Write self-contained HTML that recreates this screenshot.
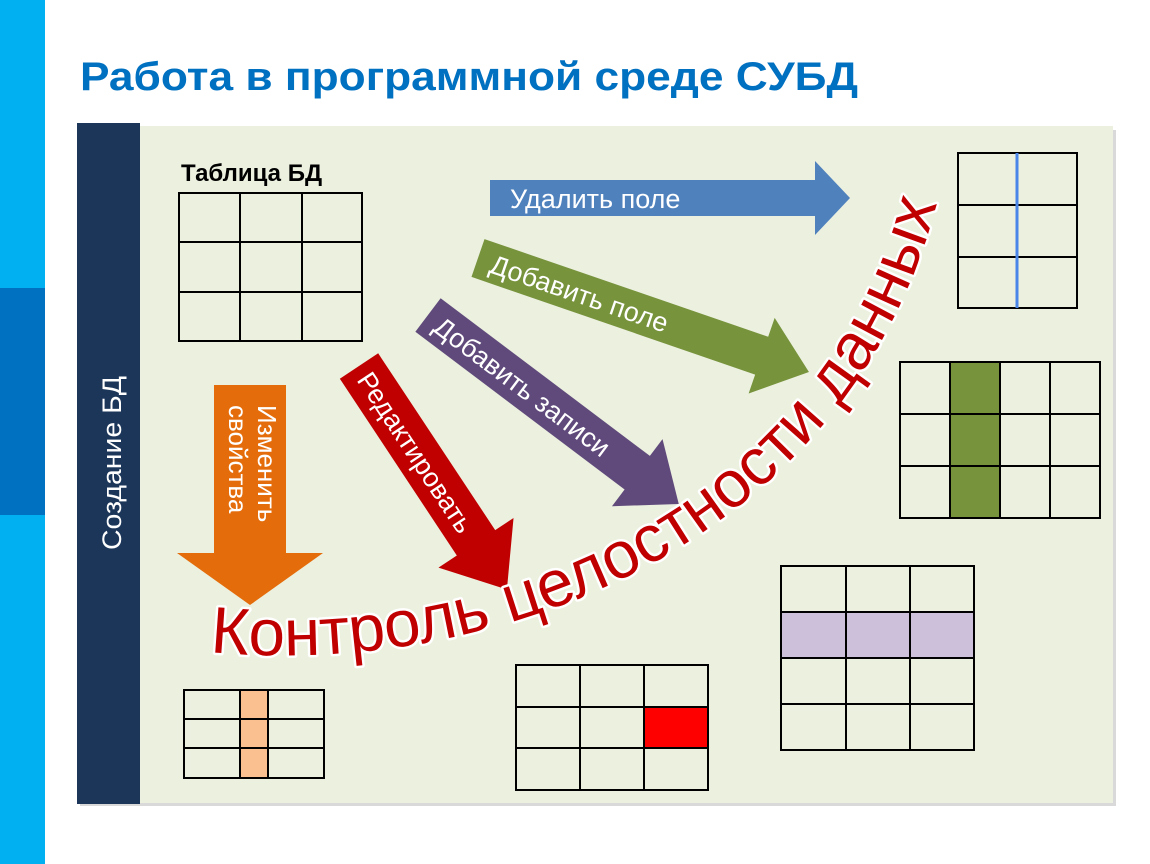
<!DOCTYPE html>
<html><head><meta charset="utf-8"><style>
html,body{margin:0;padding:0;background:#fff;width:1150px;height:864px;overflow:hidden}
svg{display:block}
text{font-family:"Liberation Sans","DejaVu Sans",sans-serif}
</style></head><body>
<svg width="1150" height="864" viewBox="0 0 1150 864" xmlns="http://www.w3.org/2000/svg">
<rect x="0" y="0" width="45" height="864" fill="#00b0f0"/>
<rect x="0" y="288" width="45" height="227" fill="#0070c0"/>
<text x="80" y="90" font-size="40" font-weight="bold" fill="#0070c0" textLength="778" lengthAdjust="spacingAndGlyphs">Работа в программной среде СУБД</text>
<rect x="80" y="130" width="1036" height="676" fill="#d9d9d9"/>
<rect x="77" y="126" width="1036" height="677" fill="#ebf0df"/>
<rect x="77" y="123" width="63" height="681" fill="#1b3659"/>
<text transform="translate(121,463) rotate(-90)" text-anchor="middle" font-size="27" fill="#fff" textLength="174" lengthAdjust="spacingAndGlyphs">Создание БД</text>
<text x="181" y="181" font-size="24" font-weight="bold" fill="#000">Таблица БД</text>

<g fill="none" stroke="#000" stroke-width="2">
<rect x="179" y="193" width="183" height="148"/>
<path d="M240 193V341M302 193V341M179 242H362M179 292H362"/>
<rect x="958" y="153" width="119" height="155"/>
<path d="M958 205H1077M958 257H1077"/>
</g>
<path d="M1017 153V308" stroke="#4a86e8" stroke-width="3"/>
<rect x="950" y="362" width="50" height="156" fill="#77933c"/>
<g fill="none" stroke="#000" stroke-width="2">
<rect x="900" y="362" width="200" height="156"/>
<path d="M950 362V518M1000 362V518M1050 362V518M900 414H1100M900 466H1100"/>
</g>
<rect x="781" y="612" width="193" height="46" fill="#ccc0da"/>
<g fill="none" stroke="#000" stroke-width="2">
<rect x="781" y="566" width="193" height="184"/>
<path d="M846 566V750M910 566V750M781 612H974M781 658H974M781 704H974"/>
</g>
<rect x="644" y="707" width="64" height="41" fill="#ff0000"/>
<g fill="none" stroke="#000" stroke-width="2">
<rect x="516" y="665" width="192" height="125"/>
<path d="M580 665V790M644 665V790M516 707H708M516 748H708"/>
</g>
<rect x="240" y="690" width="28" height="88" fill="#fac090"/>
<g fill="none" stroke="#000" stroke-width="2">
<rect x="184" y="690" width="140" height="88"/>
<path d="M240 690V778M268 690V778M184 719H324M184 748H324"/>
</g>

<g transform="translate(490,198)">
<polygon points="0,-18 325,-18 325,-37 360,0 325,37 325,18 0,18" fill="#4f81bd"/>
<text x="20" y="10" font-size="27" fill="#fff">Удалить поле</text>
</g>
<g transform="translate(478,258) rotate(19)">
<polygon points="0,-20 300,-20 300,-40 350,0 300,40 300,20 0,20" fill="#77933c"/>
<text x="14" y="10" font-size="27" fill="#fff">Добавить поле</text>
</g>
<g transform="translate(428,315) rotate(37)">
<polygon points="0,-21 262,-21 262,-42 314,0 262,42 262,21 0,21" fill="#604a7b"/>
<text x="12" y="10" font-size="27" fill="#fff">Добавить записи</text>
</g>
<g transform="translate(359,366) rotate(56.5)">
<polygon points="0,-23 212,-23 212,-45 268,0 212,45 212,23 0,23" fill="#c00000"/>
<text x="10" y="10" font-size="27" fill="#fff">Редактировать</text>
</g>
<g transform="translate(250,385) rotate(90)">
<polygon points="0,-36 168,-36 168,-73 220,0 168,73 168,36 0,36" fill="#e46c0a"/>
<text x="20" y="-8" font-size="26" fill="#fff">Изменить</text>
<text x="20" y="21" font-size="26" fill="#fff">свойства</text>
</g>

<path id="arc" d="M210 652 C 500 680, 870 540, 945 168" fill="none"/>
<text font-size="66" fill="#c00000" stroke="#fff" stroke-width="5" paint-order="stroke" stroke-linejoin="round"><textPath href="#arc" textLength="930" lengthAdjust="spacingAndGlyphs">Контроль целостности данных</textPath></text>
</svg>
</body></html>
